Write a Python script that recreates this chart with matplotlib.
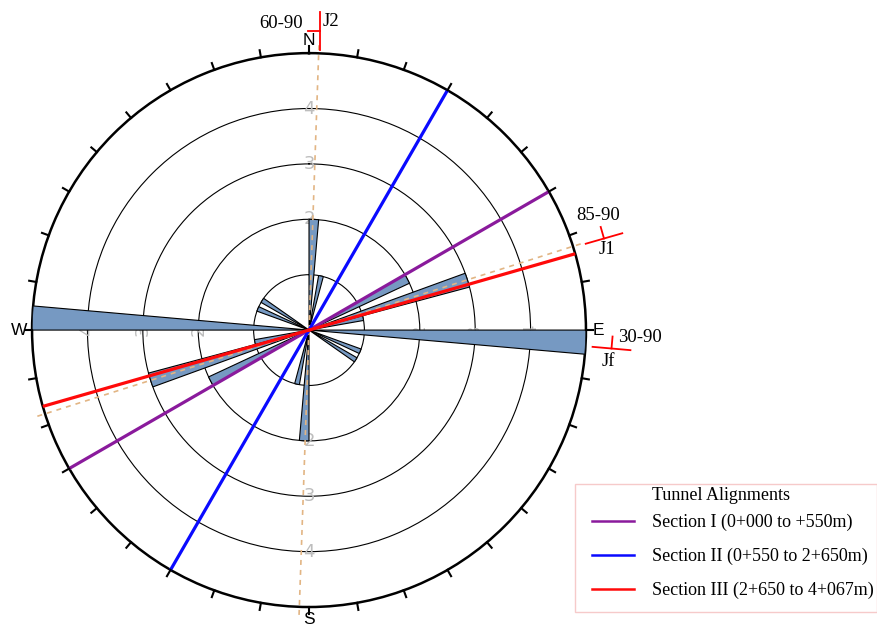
import numpy as np
import matplotlib.pyplot as plt
from matplotlib.lines import Line2D
from matplotlib.patches import Rectangle

# joint rose: left edge of each 5 degree bin (azimuth) and frequency
bin_start = [0, 10, 60, 70, 75, 90, 110, 120]
bin_count = [2.0, 1.0, 2.0, 3.0, 1.0, 5.0, 1.0, 1.0]

# tunnel alignment azimuths (degrees)
sections = ['Section I (0+000 to +550m)', 'Section II (0+550 to 2+650m)',
            'Section III (2+650 to 4+067m)']
section_az = [60, 30, 74]
section_col = ['#8a1a9c', '#0a0aff', '#ff0a0a']

# mean joint strikes shown dashed
joint_az = [2, 72.4]
ring_labels = [2, 3, 4]

# joint symbols: name, dip text, strike, centre (px), dip direction
joints = ['J2', 'J1', 'Jf']
joint_dip = ['60-90', '85-90', '30-90']
joint_strike = [0, 74, 95]
joint_dipdir = [270, 344, 5]
joint_xy = [(320, 31), (604, 238.5), (611.5, 348.5)]

W, H = 877, 628
fig = plt.figure(figsize=(W / 100, H / 100), dpi=100)
ax = fig.add_axes([0.0365, 0.0334, 0.6317, 0.882], projection='polar')
ax.set_theta_zero_location('N')
ax.set_theta_direction(-1)

# both ends of every bin (bidirectional rose)
th = np.deg2rad(np.r_[bin_start, np.array(bin_start) + 180])
vals = np.r_[bin_count, bin_count]
ax.bar(th, vals, width=np.deg2rad(5), align='edge', color='#7699c2',
       edgecolor='black', linewidth=0.8, zorder=3)

# dashed strike lines, drawn as two radial halves
for az in joint_az:
    for a in (az, az + 180):
        ax.plot([np.deg2rad(a)] * 2, [0, 5.15], color='#e2b584',
                ls=(0, (3, 3)), lw=1.2, zorder=4, clip_on=False)

for az, c in zip(section_az, section_col):
    for a in (az, az + 180):
        ax.plot([np.deg2rad(a)] * 2, [0, 5], color=c, lw=2.3, zorder=5)

ax.set_ylim(0, 5)
ax.set_yticks([1, 2, 3, 4])
ax.set_yticklabels([])
ax.yaxis.grid(True, color='black', lw=0.8)
ax.xaxis.grid(False)
ax.spines['polar'].set_linewidth(1.8)

ticks = np.arange(0, 360, 10)
ax.set_xticks(np.deg2rad(ticks))
names = {0: 'N', 90: 'E', 180: 'S', 270: 'W'}
ax.set_xticklabels([names.get(t, '') for t in ticks], fontsize=12.5,
                   family='Liberation Sans')
ax.tick_params(axis='x', length=0, pad=2)

# outward tick marks every 10 degrees
for t in ticks:
    ax.plot([np.deg2rad(t)] * 2, [5, 5.13], color='black', lw=1.5,
            clip_on=False, zorder=6)

for r in ring_labels:
    for a, rot in ((0, 0), (90, 90), (180, 0), (270, 90)):
        ax.text(np.deg2rad(a), r, str(r), color='#bdbdbd', fontsize=13,
                ha='center', va='center', rotation=rot, zorder=2)

# joint symbols in figure pixels
def fx(x):
    return x / W

def fy(y):
    return 1 - y / H

for k, (cx, cy) in enumerate(joint_xy):
    s = np.deg2rad(joint_strike[k])
    d = np.deg2rad(joint_dipdir[k])
    L = 19
    x0, y0 = cx - L * np.sin(s), cy + L * np.cos(s)
    x1, y1 = cx + L * np.sin(s), cy - L * np.cos(s)
    fig.add_artist(Line2D([fx(x0), fx(x1)], [fy(y0), fy(y1)], color='red',
                          lw=1.3, transform=fig.transFigure))
    tx, ty = cx + 12 * np.sin(d), cy - 12 * np.cos(d)
    fig.add_artist(Line2D([fx(cx), fx(tx)], [fy(cy), fy(ty)], color='red',
                          lw=1.3, transform=fig.transFigure))

serif = 'Liberation Serif'
fs = 13.5
fig.text(fx(303), fy(24), joint_dip[0], ha='right', va='center', fontsize=fs, family=serif)
fig.text(fx(323), fy(21), joints[0], ha='left', va='center', fontsize=fs, family=serif)
fig.text(fx(598), fy(216), joint_dip[1], ha='center', va='center', fontsize=fs, family=serif)
fig.text(fx(607), fy(249), joints[1], ha='center', va='center', fontsize=fs, family=serif)
fig.text(fx(618), fy(337), joint_dip[2], ha='left', va='center', fontsize=fs, family=serif)
fig.text(fx(608), fy(361), joints[2], ha='center', va='center', fontsize=fs, family=serif)

# legend: frame and title placed separately from the entries
fig.add_artist(Rectangle((fx(575), fy(612)), 302 / W, 128 / H, fill=False,
                         edgecolor='#f6caca', lw=1.0, transform=fig.transFigure))
fig.text(fx(721), fy(496), 'Tunnel Alignments', ha='center', va='center',
         fontsize=13, family=serif)
handles = [Line2D([], [], color=c, lw=1.8) for c in section_col]
leg = fig.legend(handles, sections, loc='upper left',
                 bbox_to_anchor=(fx(592), fy(514)),
                 prop={'family': serif, 'size': 13},
                 frameon=False, handlelength=2.3,
                 handletextpad=1.0, labelspacing=0.92, borderpad=0,
                 borderaxespad=0)

fig.savefig('out.png', dpi=100)
